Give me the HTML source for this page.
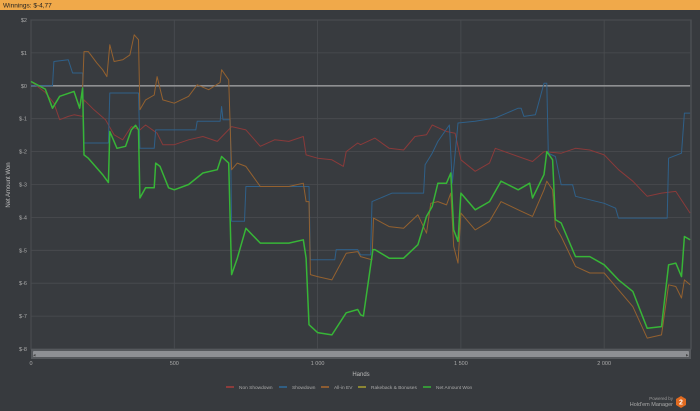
<!DOCTYPE html>
<html><head><meta charset="utf-8"><style>
body{margin:0;width:700px;height:411px;overflow:hidden;background:#373a3e;font-family:"Liberation Sans",sans-serif}
svg{display:block}
</style></head><body>
<svg id="c" width="700" height="411">
<rect x="0" y="0" width="700" height="411" fill="#373a3e"/>
<rect x="0" y="0" width="700" height="10" fill="#f0a94a"/>
<text x="3" y="7.5" font-size="6.5" fill="#222">Winnings: $-4,77</text>
<g id="grid"></g>
<g id="series"></g>
<rect x="31" y="349" width="660" height="10" fill="#55585c"/>
<rect x="33" y="351" width="656" height="6" fill="#8e9094" rx="1"/>
<text x="33" y="356.5" font-size="5" fill="#444">◂</text>
<text x="686" y="356.5" font-size="5" fill="#444">▸</text>
<text x="361" y="376" font-size="6" fill="#bbb" text-anchor="middle">Hands</text>
<text transform="translate(10,185) rotate(-90)" font-size="6" fill="#bbb" text-anchor="middle">Net Amount Won</text>
<g id="legend"></g>
<text x="673" y="400" font-size="4.5" fill="#999" text-anchor="end">Powered by</text>
<text x="673" y="406" font-size="5.5" fill="#aaa" text-anchor="end">Hold'em Manager</text>
<polygon points="681,396 686,399 686,405 681,408 676,405 676,399" fill="#e06a20"/>
<text x="681" y="404.5" font-size="7" font-weight="bold" fill="#fff" text-anchor="middle">2</text>
</svg>
<script>
const yTicks=[2,1,0,-1,-2,-3,-4,-5,-6,-7,-8];
const yTickLabels=["$2","$1","$0","$-1","$-2","$-3","$-4","$-5","$-6","$-7","$-8"];
const xTicks=[0,500,1000,1500,2000];
const xTickLabels=["0","500","1 000","1 500","2 000"];
const rakebackHands=[0,2300];
const rakebackValues=[0,0];
const netHands=[0,50,75,100,150,170,180,185,200,250,270,275,300,330,350,365,375,380,400,430,435,450,480,500,550,600,650,665,690,700,720,750,800,850,900,950,960,970,1000,1050,1100,1140,1150,1160,1193,1200,1250,1300,1350,1380,1400,1420,1450,1465,1475,1490,1500,1550,1600,1640,1700,1740,1750,1790,1800,1820,1830,1850,1900,1950,2000,2050,2100,2150,2200,2225,2250,2270,2280,2300];
const netValues=[0.13,-0.1,-0.68,-0.32,-0.17,-0.68,-0.07,-2.1,-2.2,-2.7,-2.94,-1.39,-1.9,-1.84,-1.34,-1.2,-1.34,-3.41,-3.1,-3.1,-2.35,-2.45,-3.1,-3.16,-3.0,-2.65,-2.55,-2.15,-2.35,-5.74,-5.24,-4.33,-4.78,-4.78,-4.78,-4.68,-5.24,-7.26,-7.5,-7.57,-6.9,-6.8,-6.96,-7.0,-4.98,-4.98,-5.24,-5.24,-4.83,-3.97,-3.67,-2.96,-2.96,-2.65,-4.38,-4.73,-3.26,-3.77,-3.52,-2.9,-3.16,-2.96,-3.41,-2.7,-2.0,-2.25,-4.07,-4.17,-5.19,-5.19,-5.44,-5.9,-6.25,-7.37,-7.32,-5.44,-5.39,-5.8,-4.58,-4.68];
const evHands=[0,50,75,100,150,170,180,185,200,230,250,265,275,290,320,345,360,375,380,400,430,440,460,500,550,580,620,660,665,690,700,720,750,800,850,900,950,960,970,975,1000,1050,1100,1140,1150,1190,1195,1250,1300,1350,1380,1395,1420,1450,1465,1475,1490,1500,1550,1600,1640,1700,1750,1790,1800,1820,1830,1850,1900,1950,2000,2050,2100,2150,2200,2225,2250,2270,2280,2300];
const evValues=[0.13,-0.1,-0.68,-0.32,-0.17,-0.68,-0.07,1.04,1.04,0.69,0.49,0.28,1.25,0.74,0.79,0.94,1.55,1.4,-0.73,-0.43,-0.28,0.28,-0.43,-0.53,-0.32,0.03,-0.12,0.1,0.49,0.18,-2.55,-2.35,-2.45,-3.06,-3.06,-3.06,-2.96,-3.52,-3.52,-5.74,-5.8,-5.9,-5.09,-5.04,-5.19,-5.29,-4.02,-4.28,-4.33,-3.92,-4.48,-3.57,-3.52,-3.62,-3.26,-4.88,-5.39,-3.87,-4.38,-4.12,-3.52,-3.77,-3.97,-3.16,-2.9,-3.16,-4.28,-4.58,-5.49,-5.69,-5.69,-6.2,-6.71,-7.67,-7.57,-6.05,-6.1,-6.45,-5.9,-6.05];
const sdHands=[0,75,80,130,145,180,185,270,275,375,380,430,435,575,580,660,665,670,695,700,745,750,970,975,1060,1065,1140,1150,1185,1190,1260,1370,1375,1400,1420,1460,1470,1490,1550,1620,1700,1710,1720,1760,1790,1800,1805,1830,1850,1890,1900,2000,2040,2050,2220,2225,2270,2280,2300];
const sdValues=[0,0,0.74,0.79,0.39,0.39,-1.74,-1.74,-0.22,-0.22,-1.9,-1.9,-1.34,-1.34,-1.08,-1.08,-0.63,-1.03,-1.03,-4.12,-4.12,-3.06,-3.06,-5.29,-5.29,-4.98,-4.98,-5.14,-5.14,-3.52,-3.26,-3.26,-2.4,-2.05,-1.69,-1.19,-2.96,-1.13,-1.08,-0.98,-0.68,-0.68,-0.93,-0.88,0.08,0.08,-2.05,-2.15,-3.01,-3.01,-3.36,-3.57,-3.72,-4.02,-4.02,-2.2,-2.05,-0.83,-0.83];
const nsdHands=[0,50,80,100,130,150,180,185,220,260,290,320,350,380,400,440,460,500,550,600,650,700,750,800,850,900,950,960,1000,1050,1090,1100,1140,1150,1200,1250,1300,1340,1380,1400,1450,1480,1500,1550,1600,1620,1700,1750,1790,1850,1900,1950,2000,2050,2100,2150,2200,2250,2300];
const nsdValues=[0.13,-0.2,-0.53,-1.03,-0.93,-0.88,-0.93,-0.43,-0.73,-1.03,-1.49,-1.64,-1.24,-1.34,-1.19,-1.44,-1.79,-1.79,-1.64,-1.54,-1.69,-1.24,-1.34,-1.84,-1.64,-1.69,-1.54,-2.1,-2.2,-2.25,-2.45,-2.0,-1.74,-1.79,-1.59,-1.9,-1.95,-1.54,-1.49,-1.19,-1.39,-1.44,-2.25,-2.6,-2.35,-1.9,-2.15,-2.3,-2.0,-2.05,-1.9,-1.95,-2.1,-2.55,-2.9,-3.36,-3.26,-3.21,-3.87];

const NS="http://www.w3.org/2000/svg";
const X0=31,X1=691,Y0=20,Y1=349,HMAX=2303,VMAX=2,VMIN=-8;
function xs(h){return X0+(h/HMAX)*(X1-X0);}
function ys(v){return Y0+(VMAX-v)/(VMAX-VMIN)*(Y1-Y0);}
function mk(t,a){const e=document.createElementNS(NS,t);for(const k in a)e.setAttribute(k,a[k]);return e;}
const grid=document.getElementById('grid'),svg=document.getElementById('c');
grid.appendChild(mk('rect',{x:X0,y:Y0,width:X1-X0,height:Y1-Y0,fill:'#383b3f',stroke:'#55585c','stroke-width':1}));
yTicks.forEach((v,i)=>{
  const l=mk('line',{x1:X0,x2:X1,y1:ys(v),y2:ys(v),stroke:'#4a4d51','stroke-width':0.8});
  
  
  grid.appendChild(l);
  const t=mk('text',{x:27,y:ys(v)+2,'font-size':5.5,fill:'#aaa','text-anchor':'end'});
  t.textContent=yTickLabels[i];
  
  
  grid.appendChild(t);
});
xTicks.forEach((h,i)=>{
  const l=mk('line',{x1:xs(h),x2:xs(h),y1:Y0,y2:Y1,stroke:'#4a4d51','stroke-width':0.8});
  
  
  grid.appendChild(l);
  const t=mk('text',{x:xs(h),y:365,'font-size':5.5,fill:'#aaa','text-anchor':'middle'});
  t.textContent=xTickLabels[i];
  
  
  grid.appendChild(t);
});
const sg=document.getElementById('series');
function draw(hands,vals,color,w,name){
  const d=hands.map((h,i)=>(i?'L':'M')+xs(h).toFixed(1)+','+ys(vals[i]).toFixed(1)).join('');
  const p=mk('path',{d:d,fill:'none',stroke:color,'stroke-width':w,'stroke-linejoin':'round'});
  
  
  sg.appendChild(p);
}
draw(rakebackHands,rakebackValues,'#8f9092',1.6,'rakeback-line');
draw(nsdHands,nsdValues,'#8a3a3a',1,'non-showdown-line');
draw(sdHands,sdValues,'#2f6089',1,'showdown-line');
draw(evHands,evValues,'#94612f',1,'all-in-ev-line');
draw(netHands,netValues,'#37b537',1.5,'net-amount-won-line');
const legendLabels=["Non Showdown","Showdown","All-in EV","Rakeback & Bonuses","Net Amount Won"];
const legendColors=['#a83c3c','#2f6a9a','#a8682f','#a8a030','#37b537'];
const legendX=[226,279,321,358,423];
const lg=document.getElementById('legend');
legendLabels.forEach((s,i)=>{
  const g=mk('g',{});
  
  
  g.appendChild(mk('line',{x1:legendX[i],x2:legendX[i]+8,y1:387,y2:387,stroke:legendColors[i],'stroke-width':1.5}));
  const t=mk('text',{x:legendX[i]+13,y:389,'font-size':4.8,fill:'#aaa'});
  t.textContent=s;
  g.appendChild(t);
  lg.appendChild(g);
});
</script>
</body></html>
